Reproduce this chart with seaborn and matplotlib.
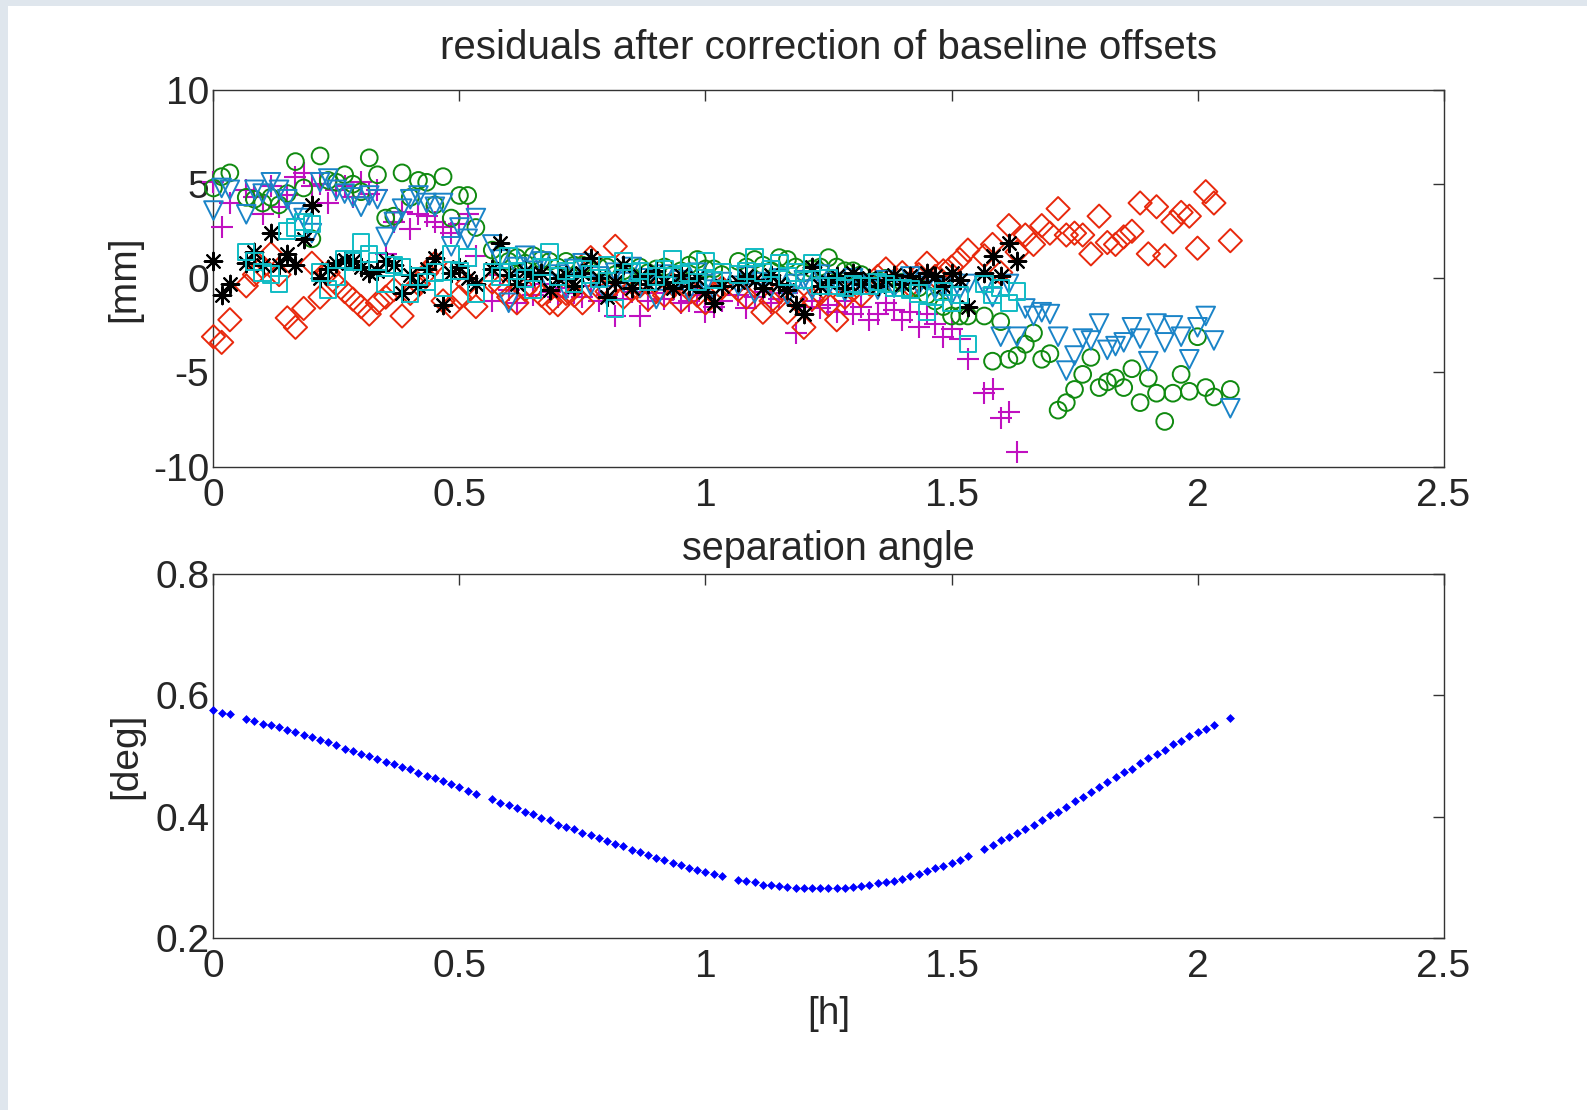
import numpy as np
import matplotlib
matplotlib.use("Agg")
import matplotlib.pyplot as plt
import seaborn as sns
from matplotlib.patches import Rectangle

nan = np.nan

# epochs in minutes from start (one per minute, a gap every half hour)
epoch_min = [0, 1, 2, 4, 5, 6, 7, 8, 9, 10, 11, 12, 13, 14, 15, 16, 17, 18, 19, 20,
             21, 22, 23, 24, 25, 26, 27, 28, 29, 30, 31, 32,
             34, 35, 36, 37, 38, 39, 40, 41, 42, 43, 44, 45, 46, 47, 48, 49, 50, 51, 52, 53,
             54, 55, 56, 57, 58, 59, 60, 61, 62,
             64, 65, 66, 67, 68, 69, 70, 71, 72, 73, 74, 75, 76, 77, 78, 79, 80, 81, 82, 83,
             84, 85, 86, 87, 88, 89, 90, 91, 92,
             94, 95, 96, 97, 98, 99, 100, 101, 102, 103, 104, 105, 106, 107, 108, 109, 110,
             111, 112, 113, 114, 115, 116, 117, 118, 119, 120, 121, 122,
             124]

# residuals [mm] per baseline
res_diamond = [-3.1, -3.4, -2.2, -0.4, 0.2, 0.6, 1.3, 0.2, -2.1, -2.6,
               -1.6, 0.8, -1.0, 0.3, -0.3, -0.7, -1.1, -1.5, -1.9, -1.3,
               -1.0, -0.6, -2.0, -0.8, -0.3, 0.3, 0.8, -1.2, -1.5, -1.0,
               -0.3, -1.5,
               -0.2, -0.4, -1.0, -1.3, -0.6, -0.5, -0.9, -1.3, -1.4, -0.8,
               -0.9, -1.3, 1.1, -0.5, -0.7, 1.7, -1.0, -0.6, -0.4, -1.1,
               -0.7, -0.9, -0.3, -1.2, -0.6, -0.9, -1.3, -0.8, -0.5,
               -0.6, -1.0, -0.4, -1.8, -1.2, -0.7, -1.8, -1.1, -2.6, -1.1,
               -0.8, -1.4, -2.2, -1.0, -0.6, -0.9, -0.3, 0.1, 0.5, -0.2,
               0.3, -0.4, 0.2, 0.8, 0.1, 0.4, 0.6, 1.0, 1.5,
               1.2, 1.8, 0.3, 2.8, 1.4, 2.3, 1.8, 2.8, 2.4, 3.7,
               2.3, 2.4, 2.3, 1.3, 3.3, 1.9, 1.8, 2.2, 2.5, 4.0,
               1.3, 3.8, 1.2, 3.0, 3.5, 3.3, 1.6, 4.6, 4.0,
               2.0]

res_circle = [4.8, 5.4, 5.6, 4.3, 4.2, 4.0, 4.3, 3.9, 4.5, 6.2,
              4.8, 2.1, 6.5, 5.2, 5.1, 5.5, 5.0, 4.6, 6.4, 5.5,
              3.2, 3.3, 5.6, 4.3, 5.2, 5.1, 3.9, 5.4, 3.2, 4.4,
              4.4, 2.7,
              1.5, 1.2, 0.9, 1.1, 0.8, 1.2, 1.0, 0.9, 0.6, 0.9,
              0.7, 0.7, 0.4, 0.6, 0.6, 0.2, 0.4, 0.1, 0.6, 0.3,
              0.5, 0.6, 0.2, 0.4, 0.7, 1.0, 0.5, 0.5, 0.2,
              0.9, 0.6, 1.0, 0.7, 0.4, 1.1, 1.0, 0.6, 0.3, 0.5,
              0.6, 1.1, 0.6, 0.4, 0.4, 0.2, -0.2, -0.1, 0.0, -0.3,
              -0.2, -0.6, -0.5, -0.9, -1.2, -1.5, -2.0, -2.0, -2.0,
              -2.0, -4.4, -2.3, -4.3, -4.1, -3.5, -2.9, -4.3, -4.0, -7.0,
              -6.6, -5.9, -5.1, -4.2, -5.8, -5.5, -5.3, -5.8, -4.8, -6.6,
              -5.3, -6.1, -7.6, -6.1, -5.1, -6.0, -3.1, -5.8, -6.3,
              -5.9]

res_triangle = [3.6, 4.8, 4.7, 3.4, 4.7, 4.5, 5.1, 4.7, 4.2, 3.5,
                3.2, 2.4, 5.1, 5.3, 4.7, 4.5, 4.3, 3.8, 4.4, 4.2,
                2.2, 3.0, 3.7, 4.2, 4.4, 4.0, 3.8, 4.0, 1.7, 2.7,
                2.1, 3.2,
                1.8, 1.0, -1.3, 0.6, 1.2, 0.4, 0.9, -0.3, 0.2, -0.6,
                0.5, 0.8, -0.4, 0.1, -0.9, 0.3, -0.2, 0.6, -0.5, 0.0,
                -1.1, 0.2, -0.4, -0.1, -0.7, 0.3, -0.3, -0.6, -0.2,
                -0.4, 0.1, -0.8, -0.2, -0.5, 0.0, -0.9, -0.3, -0.1, -0.6,
                0.2, -0.4, -0.2, -0.7, 0.0, -0.4, -0.3, -0.6, -0.1, -0.5,
                -0.3, 0.1, -0.4, -0.2, -0.6, -0.5, -0.9, -0.6, -0.3,
                -0.4, -1.0, -3.1, -0.3, -3.1, -1.6, -2.0, -1.8, -1.9, -3.1,
                -4.9, -4.1, -3.2, -3.3, -2.4, -3.8, -3.6, -3.4, -2.6, -3.2,
                -4.4, -2.4, -3.4, -2.5, -3.1, -4.3, -2.6, -2.0, -3.3,
                -6.9]

res_square = [nan, nan, nan, 1.4, 0.9, 0.3, 0.2, -0.3, 2.5, 2.7,
              3.0, 2.9, 0.3, -0.6, 0.1, 1.0, 0.9, 1.9, 1.3, 0.9,
              -0.3, 0.7, 0.6, -0.8, 0.1, -0.2, 0.3, -0.5, 1.3, 0.4,
              1.1, -0.8,
              0.3, 0.1, 1.2, 0.4, 0.0, -0.6, 0.6, 1.4, 0.1, 0.4,
              -0.3, 0.5, 0.2, 0.0, 0.7, -1.6, 0.9, 0.3, 0.4, -0.2,
              0.1, 0.5, 1.0, 0.2, 0.3, -0.2, 0.9, -0.1, 0.3,
              0.2, 0.4, 1.1, 0.3, 0.5, 0.8, 0.1, 0.3, -0.1, 0.8,
              -0.4, 0.0, -0.4, -0.5, -0.3, -0.4, -0.4, -0.2, -0.3, -0.5,
              -0.5, -0.6, -0.8, -1.8, -1.0, -0.7, -1.3, -0.9, -3.5,
              -0.3, -0.9, -0.5, -1.3, -0.7]

res_plus = [5.1, 2.7, 4.0, 4.7, 4.3, 3.4, 4.9, 3.8, 4.4, 5.4,
            5.6, 4.9, 5.0, 4.0, 4.7, 4.9, 4.3, 5.1, 4.5, 4.7,
            1.3, 3.0, 3.5, 2.6, 3.4, 3.3, 3.0, 2.7, 2.4, 2.9,
            3.4, 1.2,
            -1.2, 0.2, -0.6, -1.3, -0.4, -0.9, -0.3, -0.7, -1.0, -0.5,
            -0.8, -1.0, -0.4, -1.2, -0.9, -2.0, -1.1, -0.7, -2.0, -1.2,
            -0.8, -1.1, -0.6, -1.3, -1.2, -0.9, -1.8, -1.5, -1.2,
            -0.9, -1.6, -1.0, -0.7, -1.3, -1.1, -0.8, -2.9, -1.5, -1.2,
            -1.6, -1.4, -1.8, -1.2, -1.9, -1.5, -2.2, -1.9, -1.3, -1.7,
            -2.2, -1.8, -2.6, -1.9, -2.4, -3.1, -2.7, -3.2, -4.3,
            -6.1, -5.9, -7.4, -7.1, -9.2]

res_star = [0.9, -0.9, -0.3, 0.8, 1.4, 0.7, 2.4, 0.7, 1.3, 0.7,
            2.1, 3.9, 0.0, 0.5, 0.8, 1.0, 0.9, 0.6, 0.3, 0.4,
            0.9, 0.7, -0.8, 0.2, -0.4, 0.5, 1.1, -1.4, 0.3, 0.6,
            0.0, -0.3,
            0.5, 1.9, 0.2, -0.3, 0.4, 0.1, 0.3, -0.6, 0.0, 0.2,
            -0.4, 0.3, 1.1, 0.0, -1.0, -0.2, 0.7, -0.5, 0.1, -0.3,
            0.4, -0.2, -0.5, 0.2, -0.4, 0.0, -0.7, -1.3, -0.4,
            -0.2, 0.1, -0.1, -0.5, 0.2, -0.3, -0.6, -1.4, -1.9, 0.6,
            -0.4, -0.2, 0.1, -0.5, 0.3, -0.3, 0.0, -0.4, -0.1, 0.2,
            -0.3, 0.1, -0.2, 0.3, 0.1, -0.4, 0.3, -0.1, -1.5,
            0.3, 1.2, 0.1, 1.9, 0.9]

# separation angle [deg]
sep_deg = [0.575, 0.571, 0.569, 0.561, 0.557, 0.553, 0.551, 0.547, 0.543, 0.539,
           0.535, 0.531, 0.527, 0.523, 0.518, 0.512, 0.508, 0.504, 0.500, 0.495,
           0.490, 0.486, 0.482, 0.478, 0.472, 0.467, 0.463, 0.458, 0.453, 0.449,
           0.443, 0.438,
           0.429, 0.422, 0.419, 0.414, 0.408, 0.404, 0.398, 0.394, 0.387, 0.383,
           0.379, 0.373, 0.369, 0.365, 0.359, 0.355, 0.351, 0.345, 0.341, 0.336,
           0.332, 0.328, 0.324, 0.320, 0.316, 0.312, 0.309, 0.306, 0.302,
           0.296, 0.294, 0.292, 0.288, 0.288, 0.286, 0.284, 0.282, 0.282, 0.282,
           0.282, 0.282, 0.282, 0.282, 0.284, 0.286, 0.288, 0.290, 0.292, 0.294,
           0.298, 0.302, 0.306, 0.311, 0.315, 0.318, 0.324, 0.328, 0.335,
           0.347, 0.353, 0.361, 0.367, 0.373, 0.380, 0.386, 0.394, 0.402, 0.408,
           0.416, 0.425, 0.433, 0.441, 0.449, 0.457, 0.465, 0.473, 0.479, 0.488,
           0.496, 0.504, 0.510, 0.519, 0.524, 0.533, 0.539, 0.545, 0.551,
           0.563]

x_ticks = [0, 0.5, 1, 1.5, 2, 2.5]
x_ticklabels = ["0", "0.5", "1", "1.5", "2", "2.5"]
top_yticks = [-10, -5, 0, 5, 10]
bot_yticks = [0.2, 0.4, 0.6, 0.8]

hours = np.array(epoch_min) / 60.0

sns.set_style("white")
plt.rcParams['font.family'] = ['Liberation Sans', 'DejaVu Sans']
plt.rcParams['font.size'] = 28

fig = plt.figure(figsize=(15.87, 11.10), dpi=100)
fig.patch.set_facecolor('white')
# light frame strips on the left and top edges
fig.patches.append(Rectangle((0, 0), 8 / 1587, 1, transform=fig.transFigure,
                             facecolor='#dfe6ed', edgecolor='none', zorder=-5))
fig.patches.append(Rectangle((0, 1 - 6 / 1110), 1, 6 / 1110, transform=fig.transFigure,
                             facecolor='#dfe6ed', edgecolor='none', zorder=-5))

ax1 = fig.add_axes([0.1345, 0.5796, 0.7751, 0.3393])
ax2 = fig.add_axes([0.1345, 0.1550, 0.7751, 0.3279])

lw = 1.4
sns.scatterplot(x=hours[:len(res_plus)], y=res_plus, ax=ax1, marker='+', s=250,
                color='#c010c0', linewidth=1.5, clip_on=False, zorder=3)

# open markers
series_open = [
    (res_diamond, 'D', '#e8280c', 140),
    (res_circle, 'o', '#108a10', 145),
    (res_triangle, 'v', '#1a84c8', 180),
]
for vals, mk, col, size in series_open:
    n = len(vals)
    sns.scatterplot(x=hours[:n], y=vals, ax=ax1, marker=mk, s=size, color=col,
                    facecolor='none', edgecolor=col, linewidth=lw, clip_on=False, zorder=3)

sns.scatterplot(x=hours[:len(res_star)], y=res_star, ax=ax1, marker=(8, 2, 0), s=160,
                color='black', linewidth=1.5, clip_on=False, zorder=3)
sns.scatterplot(x=hours[:len(res_square)], y=res_square, ax=ax1, marker='s', s=140,
                color='#10bcc4', facecolor='none', edgecolor='#10bcc4', linewidth=lw,
                clip_on=False, zorder=3)

sns.scatterplot(x=hours, y=sep_deg, ax=ax2, marker='D', s=16, color='#0000ff',
                edgecolor='#0000ff', linewidth=0.5, clip_on=False, zorder=3)

for ax in (ax1, ax2):
    ax.set_xlim(0, 2.5)
    ax.set_xticks(x_ticks)
    ax.set_xticklabels(x_ticklabels)
    ax.tick_params(direction='in', top=True, right=True, length=8, width=1,
                   labelsize=28, color='#333333')
    ax.tick_params(axis='x', pad=8)
    ax.tick_params(axis='y', pad=3)
    for sp in ax.spines.values():
        sp.set_linewidth(1.0)
        sp.set_color('#333333')
    ax.set_facecolor('white')

ax1.set_ylim(-10, 10)
ax1.set_yticks(top_yticks)
ax1.set_yticklabels([str(v) for v in top_yticks])
ax1.set_title('residuals after correction of baseline offsets', fontsize=29, pad=22)
ax1.set_ylabel('[mm]', fontsize=28, labelpad=8)

ax2.set_ylim(0.2, 0.8)
ax2.set_yticks(bot_yticks)
ax2.set_yticklabels(["0.2", "0.4", "0.6", "0.8"])
ax2.set_title('separation angle', fontsize=28.5, pad=10)
ax2.set_ylabel('[deg]', fontsize=28, labelpad=8)
ax2.set_xlabel('[h]', fontsize=28, labelpad=8)

fig.savefig('out.png', dpi=100, facecolor=fig.get_facecolor())
